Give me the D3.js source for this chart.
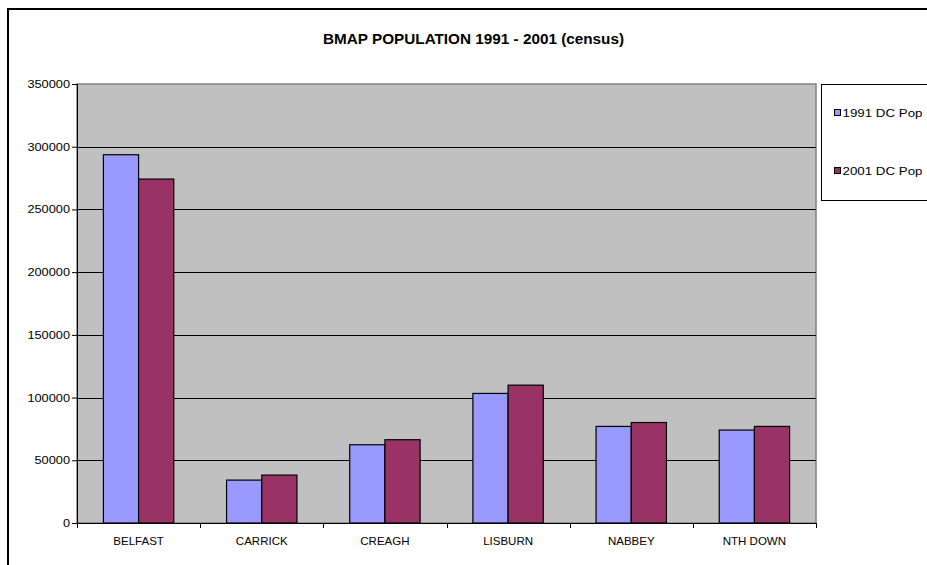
<!DOCTYPE html>
<html>
<head>
<meta charset="utf-8">
<script src="https://cdn.jsdelivr.net/npm/d3@7"></script>
<style>
  html, body { margin: 0; padding: 0; background: #fff; }
  svg { display: block; font-family: Arial, "Liberation Sans", sans-serif; }
</style>
</head>
<body>
<svg id="chart" width="927" height="565"></svg>
<script>
const categories = ["BELFAST", "CARRICK", "CREAGH", "LISBURN", "NABBEY", "NTH DOWN"];
const seriesNames = ["1991 DC Pop", "2001 DC Pop"];
const pop1991 = [293600, 34200, 62400, 103300, 77000, 74100];
const pop2001 = [274200, 38200, 66400, 109900, 80100, 77000];
const yTicks = [0, 50000, 100000, 150000, 200000, 250000, 300000, 350000];
const colors = ["#9999FF", "#993366"];
const title = "BMAP POPULATION 1991 - 2001 (census)";

const svg = d3.select("#chart");

// outer chart border (left and top visible)
svg.append("path")
  .attr("d", "M8,565 L8,9 L927,9")
  .attr("fill", "none").attr("stroke", "#000").attr("stroke-width", 2);

const plot = { left: 77, right: 816, top: 84, bottom: 523 };

const x0 = d3.scaleBand().domain(categories).range([plot.left, plot.right]).paddingInner(0).paddingOuter(0);
// Excel-style gap width 150%: band = 3.5 bar widths, group offset 0.75 bar width
const barW = x0.bandwidth() / 3.5;
const y = d3.scaleLinear().domain([0, 350000]).range([plot.bottom, plot.top]);

// plot background
svg.append("rect")
  .attr("x", plot.left).attr("y", plot.top)
  .attr("width", plot.right - plot.left).attr("height", plot.bottom - plot.top)
  .attr("fill", "#C0C0C0").attr("stroke", "#808080").attr("stroke-width", 1.5);

// gridlines
svg.append("g").selectAll("line")
  .data(yTicks.filter(d => d > 0 && d < 350000))
  .join("line")
  .attr("x1", plot.left).attr("x2", plot.right)
  .attr("y1", d => Math.round(y(d)) + 0.5).attr("y2", d => Math.round(y(d)) + 0.5)
  .attr("stroke", "#000").attr("stroke-width", 1);

// bars
const series = [pop1991, pop2001];
const groups = svg.append("g").selectAll("g")
  .data(categories)
  .join("g")
  .attr("transform", d => `translate(${x0(d)},0)`);

groups.selectAll("rect")
  .data((d, i) => series.map((s, j) => ({ j, v: s[i] })))
  .join("rect")
  .attr("x", d => 0.75 * barW + d.j * barW)
  .attr("y", d => y(d.v))
  .attr("width", barW)
  .attr("height", d => y(0) - y(d.v))
  .attr("fill", d => colors[d.j])
  .attr("stroke", "#000").attr("stroke-width", 1.2);

// y axis
const yAxis = d3.axisLeft(y).tickValues(yTicks).tickSize(5).tickPadding(2).tickFormat(d3.format("d"));
const gy = svg.append("g").attr("transform", `translate(${plot.left},0)`).call(yAxis);
gy.select(".domain").attr("stroke", "#000");
gy.selectAll(".tick line").attr("stroke", "#000");
gy.selectAll("text")
  .attr("font-size", 11).attr("fill", "#000")
  .attr("font-family", "Arial, 'Liberation Sans', sans-serif")
  .attr("textLength", d => String(d).length * 7.1)
  .attr("lengthAdjust", "spacingAndGlyphs");

// x axis
const gx = svg.append("g").attr("transform", `translate(0,${plot.bottom})`);
gx.append("line").attr("x1", plot.left).attr("x2", plot.right).attr("y1", 0.5).attr("y2", 0.5).attr("stroke", "#000");
const boundaries = categories.map(c => x0(c)).concat([plot.right]);
gx.selectAll("line.tick").data(boundaries).join("line").attr("class", "tick")
  .attr("x1", d => Math.round(d) + 0.5).attr("x2", d => Math.round(d) + 0.5)
  .attr("y1", 0).attr("y2", 5).attr("stroke", "#000");
gx.selectAll("text").data(categories).join("text")
  .attr("x", d => x0(d) + x0.bandwidth() / 2)
  .attr("y", 21.5)
  .attr("text-anchor", "middle")
  .attr("font-size", 11.5)
  .text(d => d);

// title
svg.append("text")
  .attr("x", 473.5).attr("y", 44)
  .attr("text-anchor", "middle")
  .attr("font-size", 14).attr("font-weight", "bold")
  .attr("textLength", 301).attr("lengthAdjust", "spacingAndGlyphs")
  .text(title);

// legend
svg.append("rect")
  .attr("x", 821.5).attr("y", 84.5).attr("width", 120).attr("height", 116)
  .attr("fill", "#fff").attr("stroke", "#000").attr("stroke-width", 1);
const legendY = [113, 171];
const leg = svg.append("g").selectAll("g").data(seriesNames).join("g")
  .attr("transform", (d, i) => `translate(834,${legendY[i]})`);
leg.append("rect").attr("x", 0.5).attr("y", -3.5).attr("width", 6).attr("height", 6)
  .attr("fill", (d, i) => colors[i]).attr("stroke", "#000").attr("stroke-width", 1);
leg.append("text").attr("x", 8.5).attr("y", 4).attr("font-size", 11.5)
  .attr("textLength", 80).attr("lengthAdjust", "spacingAndGlyphs")
  .text(d => d);
</script>
</body>
</html>
